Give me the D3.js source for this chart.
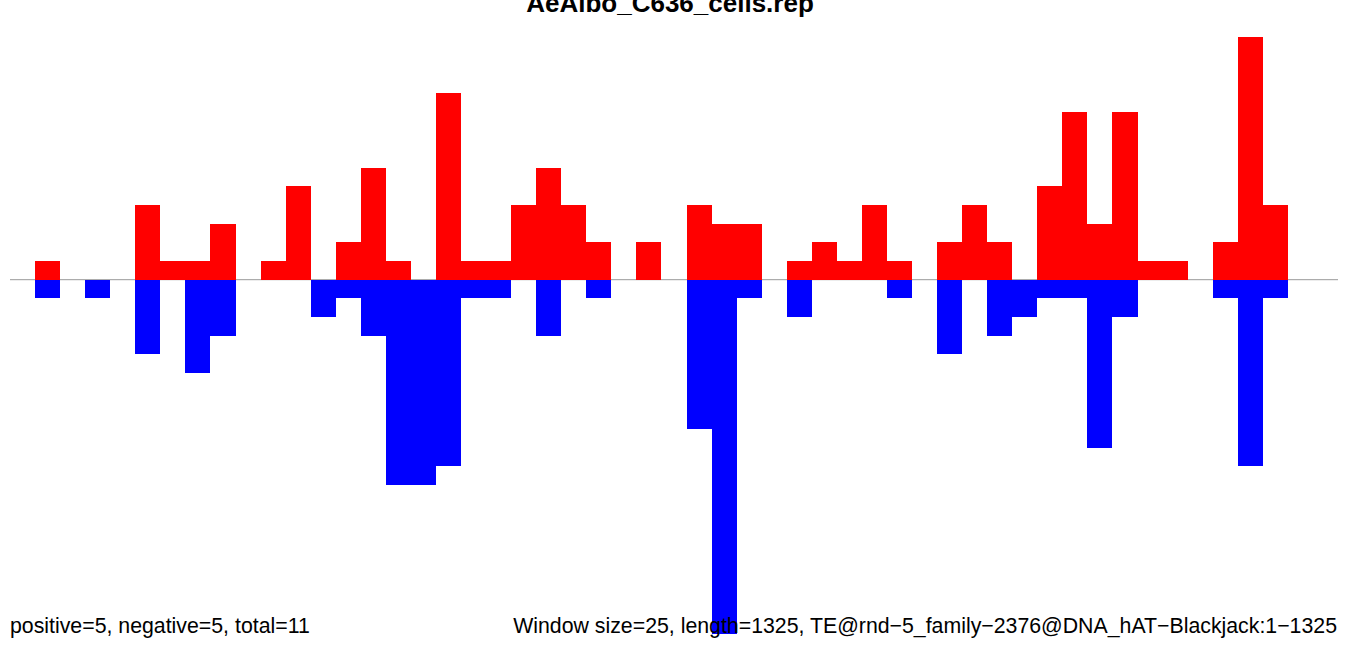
<!DOCTYPE html>
<html>
<head>
<meta charset="utf-8">
<script src="https://cdn.jsdelivr.net/npm/d3@7"></script>
<style>
  html, body { margin: 0; padding: 0; background: #fff; }
  svg { display: block; }
</style>
</head>
<body>
<div id="chart"></div>
<script>
const title = "AeAlbo_C636_cells.rep";
const leftNote = "positive=5, negative=5, total=11";
const rightNote = "Window size=25, length=1325, TE@rnd\u22125_family\u22122376@DNA_hAT\u2212Blackjack:1\u22121325";
const windowSize = 25;
const seqLength = 1325;
// counts per 25-bp window (53 windows)
const positive = [0,1,0,0,0,4,1,1,3,0,1,5,0,2,6,1,0,10,1,1,4,6,4,2,0,2,0,4,3,3,0,1,2,1,4,1,0,2,4,2,0,5,9,3,9,1,1,0,2,13,4,0,0];
const negative = [0,1,0,1,0,4,0,5,3,0,0,0,2,1,3,11,11,10,1,1,0,3,0,1,0,0,0,8,19,1,0,2,0,0,0,1,0,4,0,3,2,1,1,9,2,0,0,0,1,10,1,0,0];

const W = 1350, H = 656;
const svg = d3.select("#chart").append("svg").attr("width", W).attr("height", H);

const x = d3.scaleLinear().domain([0, seqLength]).range([10, 1338]);
const y = d3.scaleLinear().domain([-19, 13]).range([634.4, 37]);

svg.append("line")
  .attr("x1", x(0)).attr("x2", x(seqLength))
  .attr("y1", y(0)).attr("y2", y(0))
  .attr("stroke", "#999").attr("stroke-width", 1);

const g = svg.append("g").attr("shape-rendering", "crispEdges");

g.selectAll("rect.pos").data(positive).join("rect")
  .attr("class", "pos")
  .attr("x", (d, i) => x(i * windowSize))
  .attr("width", (d, i) => x((i + 1) * windowSize) - x(i * windowSize))
  .attr("y", d => y(d))
  .attr("height", d => y(0) - y(d))
  .attr("fill", "#ff0000");

g.selectAll("rect.neg").data(negative).join("rect")
  .attr("class", "neg")
  .attr("x", (d, i) => x(i * windowSize))
  .attr("width", (d, i) => x((i + 1) * windowSize) - x(i * windowSize))
  .attr("y", y(0))
  .attr("height", d => y(-d) - y(0))
  .attr("fill", "#0000ff");

svg.append("text")
  .attr("x", 670).attr("y", 12)
  .attr("text-anchor", "middle")
  .attr("font-family", "Liberation Sans, Arial, sans-serif")
  .attr("font-weight", "bold")
  .attr("font-size", 26)
  .attr("fill", "#000")
  .text(title);

svg.append("text")
  .attr("x", 10).attr("y", 633)
  .attr("font-family", "Liberation Sans, Arial, sans-serif")
  .attr("font-size", 21.3)
  .attr("fill", "#000")
  .text(leftNote);

svg.append("text")
  .attr("x", 1337).attr("y", 633)
  .attr("text-anchor", "end")
  .attr("font-family", "Liberation Sans, Arial, sans-serif")
  .attr("font-size", 21.3)
  .attr("fill", "#000")
  .text(rightNote);
</script>
</body>
</html>
